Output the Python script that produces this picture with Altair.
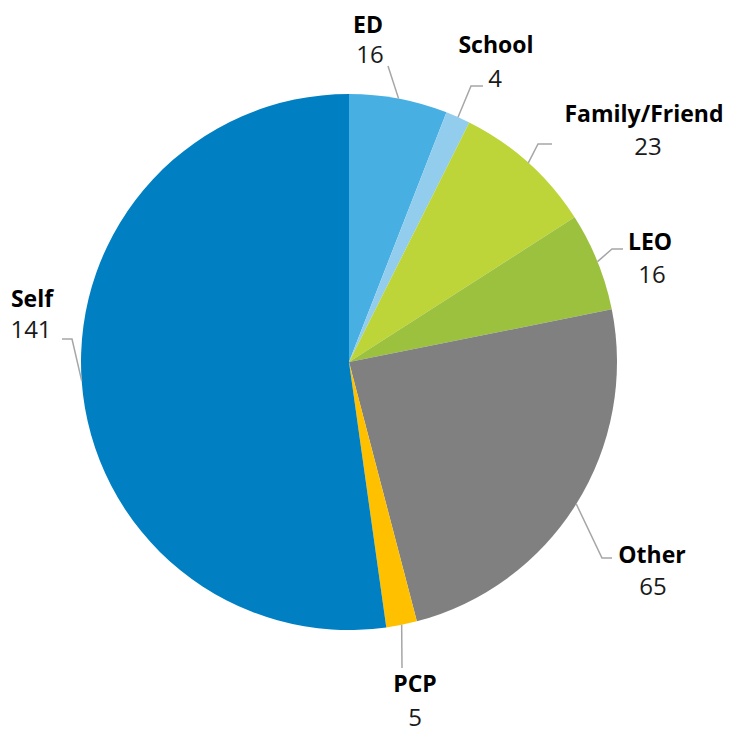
import math
import altair as alt
import pandas as pd

# ---- data ----
categories = ["ED", "School", "Family/Friend", "LEO", "Other", "PCP", "Self"]
values = [16, 4, 23, 16, 65, 5, 141]
colors = ["#48AFE3", "#93CDEE", "#BDD539", "#9BC13F", "#808080", "#FFC000", "#0080C3"]

# ---- layout (manually placed labels, page pixel coords) ----
OFF = 8
CX, CY, R = 349 - OFF, 362 - OFF, 268
# (name centre x, name baseline), (value centre x, value baseline), leader points before slice edge
label_layout = {
    "ED":            ((368, 33), (370, 63), [(388, 66)]),
    "School":        ((496, 53), (495, 87), [(483, 86), (471, 86)]),
    "Family/Friend": ((644, 122), (648, 155), [(552, 144), (538, 144)]),
    "LEO":           ((650, 250), (652, 283), [(623, 249), (612, 249)]),
    "Other":         ((652, 563), (653, 595), [(612, 558), (602, 558)]),
    "PCP":           ((415, 692), (415, 726), [(402, 668)]),
    "Self":          ((32, 307), (31, 338), [(62, 339), (72, 339)]),
}

total = sum(values)
df = pd.DataFrame({"cat": categories, "value": values, "idx": range(len(categories))})

text_rows, line_rows = [], []
cum = 0
for c, v in zip(categories, values):
    mid = (cum + v / 2) / total * 2 * math.pi
    cum += v
    ex, ey = CX + R * math.sin(mid), CY - R * math.cos(mid)
    (nx, ny), (vx, vy), pts = label_layout[c]
    text_rows.append({"cat": c, "txt": c, "x": nx - OFF, "y": ny - OFF, "kind": "name"})
    text_rows.append({"cat": c, "txt": str(v), "x": vx - OFF, "y": vy - OFF, "kind": "value"})
    k = 0
    for (px, py) in pts:
        line_rows.append({"cat": c, "o": k, "x": px - OFF, "y": py - OFF})
        k += 1
    line_rows.append({"cat": c, "o": k, "x": ex, "y": ey})

tdf = pd.DataFrame(text_rows)
ldf = pd.DataFrame(line_rows)

FONT = "Open Sans"

pie = alt.Chart(df).mark_arc(outerRadius=R).encode(
    theta=alt.Theta("value:Q", stack=True),
    color=alt.Color("cat:N", scale=alt.Scale(domain=categories, range=colors), legend=None),
    order=alt.Order("idx:Q"),
    x=alt.value(CX),
    y=alt.value(CY),
)

lines = alt.Chart(ldf).mark_line(color="#A6A6A6", strokeWidth=1.5).encode(
    x=alt.X("x:Q", scale=None, axis=None),
    y=alt.Y("y:Q", scale=None, axis=None),
    detail="cat:N",
    order="o:Q",
)

names = alt.Chart(tdf[tdf.kind == "name"]).mark_text(
    font=FONT, fontSize=23, fontWeight="bold", color="#000000", align="center", baseline="alphabetic"
).encode(
    x=alt.X("x:Q", scale=None, axis=None),
    y=alt.Y("y:Q", scale=None, axis=None),
    text="txt:N",
)

vals = alt.Chart(tdf[tdf.kind == "value"]).mark_text(
    font=FONT, fontSize=24, color="#1a1a1a", align="center", baseline="alphabetic"
).encode(
    x=alt.X("x:Q", scale=None, axis=None),
    y=alt.Y("y:Q", scale=None, axis=None),
    text="txt:N",
)

chart = alt.layer(pie, lines, names, vals).properties(
    width=717, height=724, padding=0, autosize=alt.AutoSizeParams(type="none")
).configure_view(stroke=None)

chart.save("out.html", embed_options={"renderer": "svg", "actions": False})
